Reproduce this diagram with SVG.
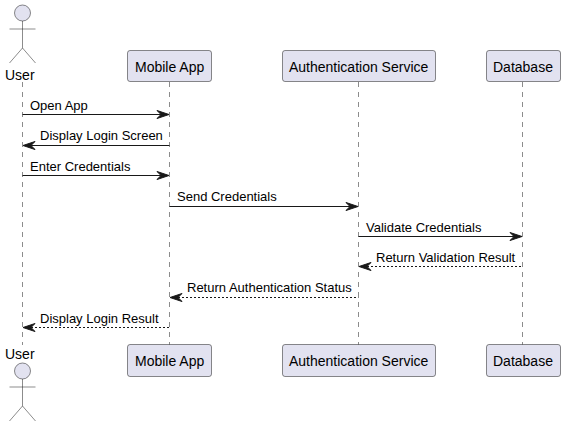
<svg xmlns="http://www.w3.org/2000/svg" width="565" height="426" viewBox="0 0 565 426">
<style>
text{font-family:"Liberation Sans",Arial,sans-serif;fill:#000}
.n{font-size:14px}
.m{font-size:13px}
.life{stroke:#181818;stroke-width:.5;stroke-dasharray:5 5;fill:none}
.box{fill:#E2E2F0;stroke:#181818;stroke-width:.5}
.act{fill:#E2E2F0;stroke:#181818;stroke-width:.5}
.act-l{fill:none;stroke:#181818;stroke-width:.5}
.msg{stroke:#181818;stroke-width:1;fill:none}
.ret{stroke-dasharray:2 2}
.head{fill:#181818;stroke:#181818;stroke-width:1}
</style>
<defs>
<g id="actor">
<circle class="act" cx="0" cy="13" r="8"/>
<path class="act-l" d="M0 21V48M-13 29H13M0 48L-13 63M0 48L13 63"/>
</g>
</defs>
<rect width="565" height="426" fill="#fff"/>
<g id="lifelines">
<path class="life" d="M22.5 82V345"/>
<path class="life" d="M169.5 82V345"/>
<path class="life" d="M358.5 82V345"/>
<path class="life" d="M522.5 82V345"/>
</g>
<g id="node-user-top"><use href="#actor" x="22.5" y="0"/><text class="n" x="5" y="80">User</text></g>
<g id="node-user-bottom"><text class="n" x="5" y="359">User</text><use href="#actor" x="22.5" y="358"/></g>
<g id="node-app-top"><rect class="box" x="127.5" y="50.5" width="84" height="31" rx="2.5"/><text class="n" x="135" y="72">Mobile App</text></g>
<g id="node-app-bottom"><rect class="box" x="127.5" y="344.5" width="84" height="32" rx="2.5"/><text class="n" x="135" y="366">Mobile App</text></g>
<g id="node-auth-top"><rect class="box" x="282.5" y="50.5" width="153" height="31" rx="2.5"/><text class="n" x="289" y="72">Authentication Service</text></g>
<g id="node-auth-bottom"><rect class="box" x="282.5" y="344.5" width="153" height="32" rx="2.5"/><text class="n" x="289" y="366">Authentication Service</text></g>
<g id="node-db-top"><rect class="box" x="486.5" y="50.5" width="74" height="31" rx="2.5"/><text class="n" x="493" y="72">Database</text></g>
<g id="node-db-bottom"><rect class="box" x="486.5" y="344.5" width="74" height="32" rx="2.5"/><text class="n" x="493" y="366">Database</text></g>
<g id="connectors">
<path class="msg" d="M22.5 114.5H165"/><path class="head" d="M157 110.5L169 114.5L157 118.5L161 114.5Z"/>
<path class="msg" d="M27 145.5H169.5"/><path class="head" d="M35 141.5L23 145.5L35 149.5L31 145.5Z"/>
<path class="msg" d="M22.5 175.5H165"/><path class="head" d="M157 171.5L169 175.5L157 179.5L161 175.5Z"/>
<path class="msg" d="M169.5 206.5H354"/><path class="head" d="M346 202.5L358 206.5L346 210.5L350 206.5Z"/>
<path class="msg" d="M358.5 236.5H518"/><path class="head" d="M510 232.5L522 236.5L510 240.5L514 236.5Z"/>
<path class="msg ret" d="M363 266.5H522.5"/><path class="head" d="M371 262.5L359 266.5L371 270.5L367 266.5Z"/>
<path class="msg ret" d="M174 297.5H358.5"/><path class="head" d="M182 293.5L170 297.5L182 301.5L178 297.5Z"/>
<path class="msg ret" d="M27 327.5H169.5"/><path class="head" d="M35 323.5L23 327.5L35 331.5L31 327.5Z"/>
</g>
<g id="labels">
<text class="m" x="30" y="110">Open App</text>
<text class="m" x="40" y="140">Display Login Screen</text>
<text class="m" x="30" y="171">Enter Credentials</text>
<text class="m" x="177" y="201">Send Credentials</text>
<text class="m" x="366" y="232">Validate Credentials</text>
<text class="m" x="376" y="262">Return Validation Result</text>
<text class="m" x="187" y="292">Return Authentication Status</text>
<text class="m" x="40" y="323">Display Login Result</text>
</g>
</svg>
